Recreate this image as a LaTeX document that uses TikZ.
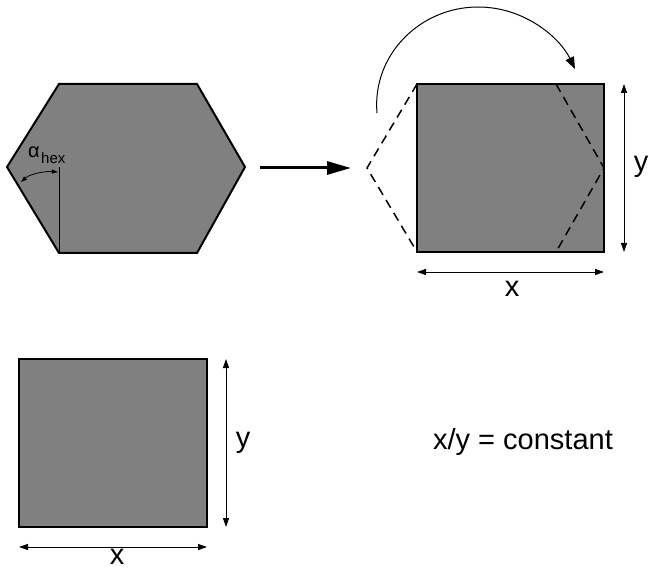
\documentclass[tikz,border=0pt]{standalone}
\usepackage{fontspec}
\setmainfont{Liberation Sans}
\usetikzlibrary{arrows.meta}
\definecolor{shapegray}{RGB}{128,128,128}
\tikzset{
  shapefill/.style={fill=shapegray, draw=black, line width=1.6pt, line join=miter},
  dashedge/.style={draw=black, line width=1.5pt, dash pattern=on 9pt off 6pt},
  dimarrow/.style={line width=0.9pt, {Triangle[length=9pt,width=6pt]}-{Triangle[length=9pt,width=6pt]}},
  biglabel/.style={font=\fontsize{29}{32}\selectfont, inner sep=0pt, anchor=base},
}
\begin{document}
\begin{tikzpicture}[x=1pt,y=-1pt]
\useasboundingbox (0,0) rectangle (649,575);
% hexagon
\coordinate (h1) at (59,84);
\coordinate (h2) at (197,84);
\coordinate (h3) at (245,167);
\coordinate (h4) at (197,253);
\coordinate (h5) at (59,253);
\coordinate (h6) at (7,167);
\path[shapefill, line width=2pt] (h1) -- (h2) -- (h3) -- (h4) -- (h5) -- (h6) -- cycle;
\coordinate (vtop) at (59,167);
\draw[line width=0.6pt] (vtop) -- (h5);
\coordinate (aL) at (21,182);
\coordinate (aR) at (58,172);
\draw[line width=0.8pt, {Triangle[length=6pt,width=4pt]}-{Triangle[length=6pt,width=4pt]}] (aL) .. controls (30,174) and (44,171) .. (aR);
\node[inner sep=0pt, anchor=base west, font=\fontsize{20}{22}\selectfont] (alpha) at (28,158) {α};
\node[inner sep=0pt, anchor=base west, font=\fontsize{15}{17}\selectfont] (hex) at (41,164) {hex};
% main arrow
\coordinate (m1) at (260,168);
\coordinate (m2) at (351,168);
\draw[line width=3pt, -{Triangle[length=24pt,width=13pt]}] (m1) -- (m2);
% rectangle top right
\coordinate (r1) at (417,84);
\coordinate (r2) at (604,84);
\coordinate (r3) at (604,252);
\coordinate (r4) at (417,252);
\path[shapefill] (r1) -- (r2) -- (r3) -- (r4) -- cycle;
\coordinate (dL) at (367,168);
\draw[dashedge] (r1) -- (dL) -- (r4);
\coordinate (dt) at (556,84);
\coordinate (db) at (556,252);
\draw[dashedge] (dt) -- (r3|-dL) -- (db);
% curved arrow
\coordinate (c1) at (377,113);
\coordinate (ctop) at (478,7);
\coordinate (c2) at (575,69);
\draw[line width=1pt, -{Triangle[length=12pt,width=9pt]}] (c1) .. controls (372,55) and (420,7) .. (ctop) .. controls (525,7) and (560,38) .. (c2);
% dimension arrows top right
\coordinate (yt) at (624,84);
\coordinate (yb) at (624,252);
\draw[dimarrow] (yt) -- (yb);
\coordinate (xl) at (417,272);
\coordinate (xr) at (604,272);
\draw[dimarrow] (xl) -- (xr);
\node[biglabel] (ylab1) at (641,172) {y};
\node[biglabel] (xlab1) at (512,297) {x};
% bottom square
\coordinate (s1) at (19,359);
\coordinate (s2) at (207,359);
\coordinate (s3) at (207,527);
\coordinate (s4) at (19,527);
\path[shapefill] (s1) -- (s2) -- (s3) -- (s4) -- cycle;
\coordinate (byt) at (226,359);
\coordinate (byb) at (226,527);
\draw[dimarrow] (byt) -- (byb);
\coordinate (bxl) at (19,547);
\coordinate (bxr) at (207,547);
\draw[dimarrow] (bxl) -- (bxr);
\node[biglabel] (ylab2) at (243,447) {y};
\node[biglabel] (xlab2) at (117,564) {x};
% formula
\node[biglabel] (ratio) at (523,449) {x/y = constant};
\end{tikzpicture}
\end{document}
